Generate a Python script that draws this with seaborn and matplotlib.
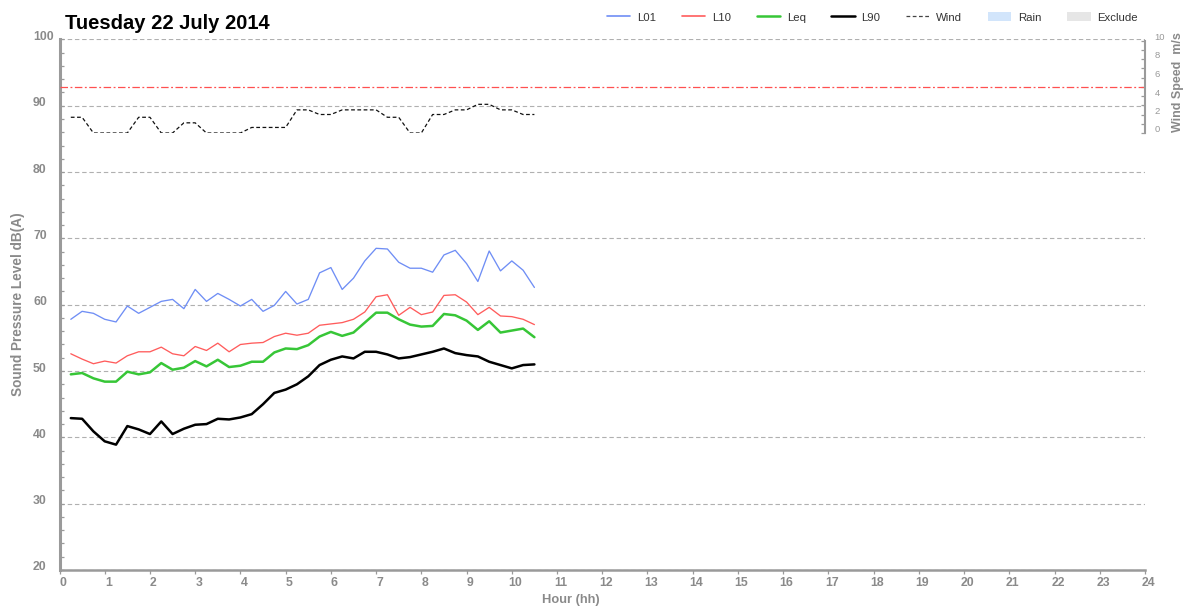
import matplotlib
matplotlib.use("Agg")
import matplotlib.pyplot as plt
import seaborn as sns
from matplotlib.lines import Line2D
from matplotlib.patches import Patch
from matplotlib.transforms import ScaledTranslation

# ---------------- data ----------------
title = "Tuesday 22 July 2014"
hours = [0.25, 0.5, 0.75, 1.0, 1.25, 1.5, 1.75, 2.0, 2.25, 2.5, 2.75, 3.0, 3.25, 3.5,
         3.75, 4.0, 4.25, 4.5, 4.75, 5.0, 5.25, 5.5, 5.75, 6.0, 6.25, 6.5, 6.75, 7.0,
         7.25, 7.5, 7.75, 8.0, 8.25, 8.5, 8.75, 9.0, 9.25, 9.5, 9.75, 10.0, 10.25, 10.5]
L01 = [57.8, 59.0, 58.7, 57.8, 57.4, 59.8, 58.7, 59.6, 60.5, 60.8, 59.4, 62.3, 60.5, 61.7,
       60.8, 59.8, 60.8, 59.0, 59.9, 62.0, 60.1, 60.8, 64.8, 65.6, 62.3, 64.0, 66.6, 68.5,
       68.4, 66.4, 65.5, 65.5, 64.9, 67.5, 68.2, 66.2, 63.5, 68.1, 65.1, 66.6, 65.2, 62.6]
L10 = [52.6, 51.8, 51.1, 51.5, 51.2, 52.3, 52.9, 52.9, 53.6, 52.6, 52.3, 53.7, 53.1, 54.2,
       52.9, 54.0, 54.2, 54.3, 55.2, 55.7, 55.4, 55.7, 56.9, 57.1, 57.3, 57.8, 58.9, 61.2,
       61.5, 58.4, 59.6, 58.5, 58.9, 61.4, 61.5, 60.4, 58.5, 59.6, 58.3, 58.2, 57.8, 57.0]
Leq = [49.5, 49.7, 48.9, 48.4, 48.4, 49.9, 49.5, 49.8, 51.2, 50.2, 50.5, 51.5, 50.7, 51.7,
       50.6, 50.8, 51.4, 51.4, 52.8, 53.4, 53.3, 53.9, 55.2, 55.9, 55.3, 55.8, 57.3, 58.8,
       58.8, 57.8, 57.0, 56.7, 56.8, 58.6, 58.4, 57.6, 56.2, 57.5, 55.8, 56.1, 56.4, 55.1]
L90 = [42.9, 42.8, 40.9, 39.4, 38.9, 41.7, 41.2, 40.5, 42.4, 40.5, 41.3, 41.9, 42.0, 42.8,
       42.7, 43.0, 43.5, 45.0, 46.7, 47.2, 48.0, 49.2, 50.9, 51.7, 52.2, 51.9, 52.9, 52.9,
       52.5, 51.9, 52.1, 52.5, 52.9, 53.4, 52.7, 52.4, 52.2, 51.4, 50.9, 50.4, 50.9, 51.0]
wind = [1.7, 1.7, 0.0, 0.0, 0.0, 0.0, 1.7, 1.7, 0.0, 0.0, 1.1, 1.1, 0.0, 0.0,
        0.0, 0.0, 0.6, 0.6, 0.6, 0.6, 2.5, 2.5, 2.0, 2.0, 2.5, 2.5, 2.5, 2.5,
        1.7, 1.7, 0.0, 0.0, 2.0, 2.0, 2.5, 2.5, 3.1, 3.1, 2.5, 2.5, 2.0, 2.0]
wind_limit = 5.0
x_ticks = list(range(0, 25))
y_major = [20, 30, 40, 50, 60, 70, 80, 90, 100]
y_minor = list(range(20, 101, 2))
w_major = [0, 2, 4, 6, 8, 10]
w_minor = list(range(0, 11))
legend_labels = ["L01", "L10", "Leq", "L90", "Wind", "Rain", "Exclude"]

# ---------------- style ----------------
C01, C10, CEQ, C90 = "#6f8ef5", "#ff5c5c", "#37c637", "#000000"
GRAY = "#9a9a9a"
LBL = "#8a8a8a"

sns.set_theme(style="white")
plt.rcParams["font.family"] = ["Liberation Sans", "DejaVu Sans"]

W, H = 1185, 613
fig = plt.figure(figsize=(W / 100, H / 100), dpi=100)
L, R, T, B = 59.5, 1145.0, 39.4, 570.0
ax = fig.add_axes([L / W, (H - B) / H, (R - L) / W, (B - T) / H])
WT, WB = 40.5, 133.0
axw = fig.add_axes([L / W, (H - WB) / H, (R - L) / W, (WB - WT) / H])
axw.patch.set_alpha(0)

# ---------------- main series ----------------
sns.lineplot(x=hours, y=L01, ax=ax, color=C01, lw=0.95)
sns.lineplot(x=hours, y=L10, ax=ax, color=C10, lw=0.95)
sns.lineplot(x=hours, y=Leq, ax=ax, color=CEQ, lw=1.8)
sns.lineplot(x=hours, y=L90, ax=ax, color=C90, lw=1.8)

ax.set_xlim(0, 24)
ax.set_ylim(20, 100)
ax.set_xticks(x_ticks)
ax.set_yticks(y_major)
ax.set_yticks(y_minor, minor=True)
ax.yaxis.grid(True, which="major", color="#b0b0b0", lw=0.8, ls=(0, (4, 2.5)))
ax.xaxis.grid(False)
ax.set_axisbelow(True)
for s in ["top", "right"]:
    ax.spines[s].set_visible(False)
ax.spines["left"].set_color(GRAY)
ax.spines["left"].set_linewidth(2.2)
ax.spines["bottom"].set_color(GRAY)
ax.spines["bottom"].set_linewidth(1.8)

ax.tick_params(axis="y", which="both", direction="in", length=3, width=0.9,
               color=GRAY, left=True, labelsize=8.8, labelcolor=LBL, pad=19)
ax.tick_params(axis="x", which="major", direction="out", length=3, width=0.9,
               color=GRAY, bottom=True, labelsize=8.8, labelcolor=LBL, pad=2.0)

ax.set_xlabel("Hour (hh)", fontsize=9.3, fontweight="bold", color=LBL)
ax.xaxis.set_label_coords((571 - L) / (R - L), -(600 - B) / (B - T))
ax.xaxis.label.set_va("center")
ax.set_ylabel("Sound Pressure Level dB(A)", fontsize=9.8, fontweight="bold", color=LBL)
ax.yaxis.set_label_coords((18 - L) / (R - L), (B - 304) / (B - T))
ax.yaxis.label.set_va("center")

# ---------------- wind axis ----------------
sns.lineplot(x=hours, y=wind, ax=axw, color="#111111", lw=0.9, linestyle=(0, (3, 2)))
axw.axhline(wind_limit, color="#ff5050", lw=0.9, ls=(0, (6, 2, 1.5, 2)))
axw.set_xlim(0, 24)
axw.set_ylim(0, 10)
axw.set_xticks([])
axw.yaxis.tick_right()
axw.set_yticks(w_major)
axw.set_yticks(w_minor, minor=True)
for s in ["top", "left", "bottom"]:
    axw.spines[s].set_visible(False)
axw.spines["right"].set_color(GRAY)
axw.spines["right"].set_linewidth(1.5)
axw.tick_params(axis="y", which="both", direction="in", length=3, width=0.9,
                color=GRAY, right=True, left=False, labelsize=6.8, labelcolor="#999999", pad=7)
axw.grid(False)
axw.set_ylabel("Wind Speed  m/s", fontsize=9.0, fontweight="bold", color=LBL)
axw.yaxis.set_label_position("right")
axw.yaxis.set_label_coords((1178 - L) / (R - L), (WB - 82) / (WB - WT))
axw.yaxis.label.set_va("center")

# tick label styling and small offsets as in the reference
up = ScaledTranslation(0, 4 / 100, fig.dpi_scale_trans)
right = ScaledTranslation(3.5 / 100, 0, fig.dpi_scale_trans)
for lbl in ax.get_yticklabels():
    lbl.set_fontweight("bold")
    lbl.set_ha("left")
    lbl.set_transform(lbl.get_transform() + up)
for lbl in ax.get_xticklabels():
    lbl.set_fontweight("bold")
    lbl.set_transform(lbl.get_transform() + right)
for lbl in axw.get_yticklabels():
    lbl.set_transform(lbl.get_transform() + up)

# ---------------- title & legend ----------------
fig.text(65 / W, 1 - 29.3 / H, title, fontsize=14.5, fontweight="bold",
         color="black", ha="left", va="baseline")

handles = [
    Line2D([], [], color=C01, lw=1.2),
    Line2D([], [], color=C10, lw=1.2),
    Line2D([], [], color=CEQ, lw=1.8),
    Line2D([], [], color=C90, lw=1.8),
    Line2D([], [], color="#444444", lw=0.9, ls=(0, (3, 2))),
    Patch(facecolor="#d2e5fb", edgecolor="none"),
    Patch(facecolor="#e6e6e6", edgecolor="none"),
]
leg = fig.legend(handles, legend_labels, loc="center left",
                 bbox_to_anchor=(607 / W, 1 - 17.5 / H), ncol=7, frameon=False,
                 fontsize=8.2, handlelength=2.05, handletextpad=0.6, columnspacing=2.25,
                 borderpad=0, borderaxespad=0, handleheight=0.75)
for t in leg.get_texts():
    t.set_color("#333333")

fig.savefig("out.png", dpi=100, facecolor="white")
